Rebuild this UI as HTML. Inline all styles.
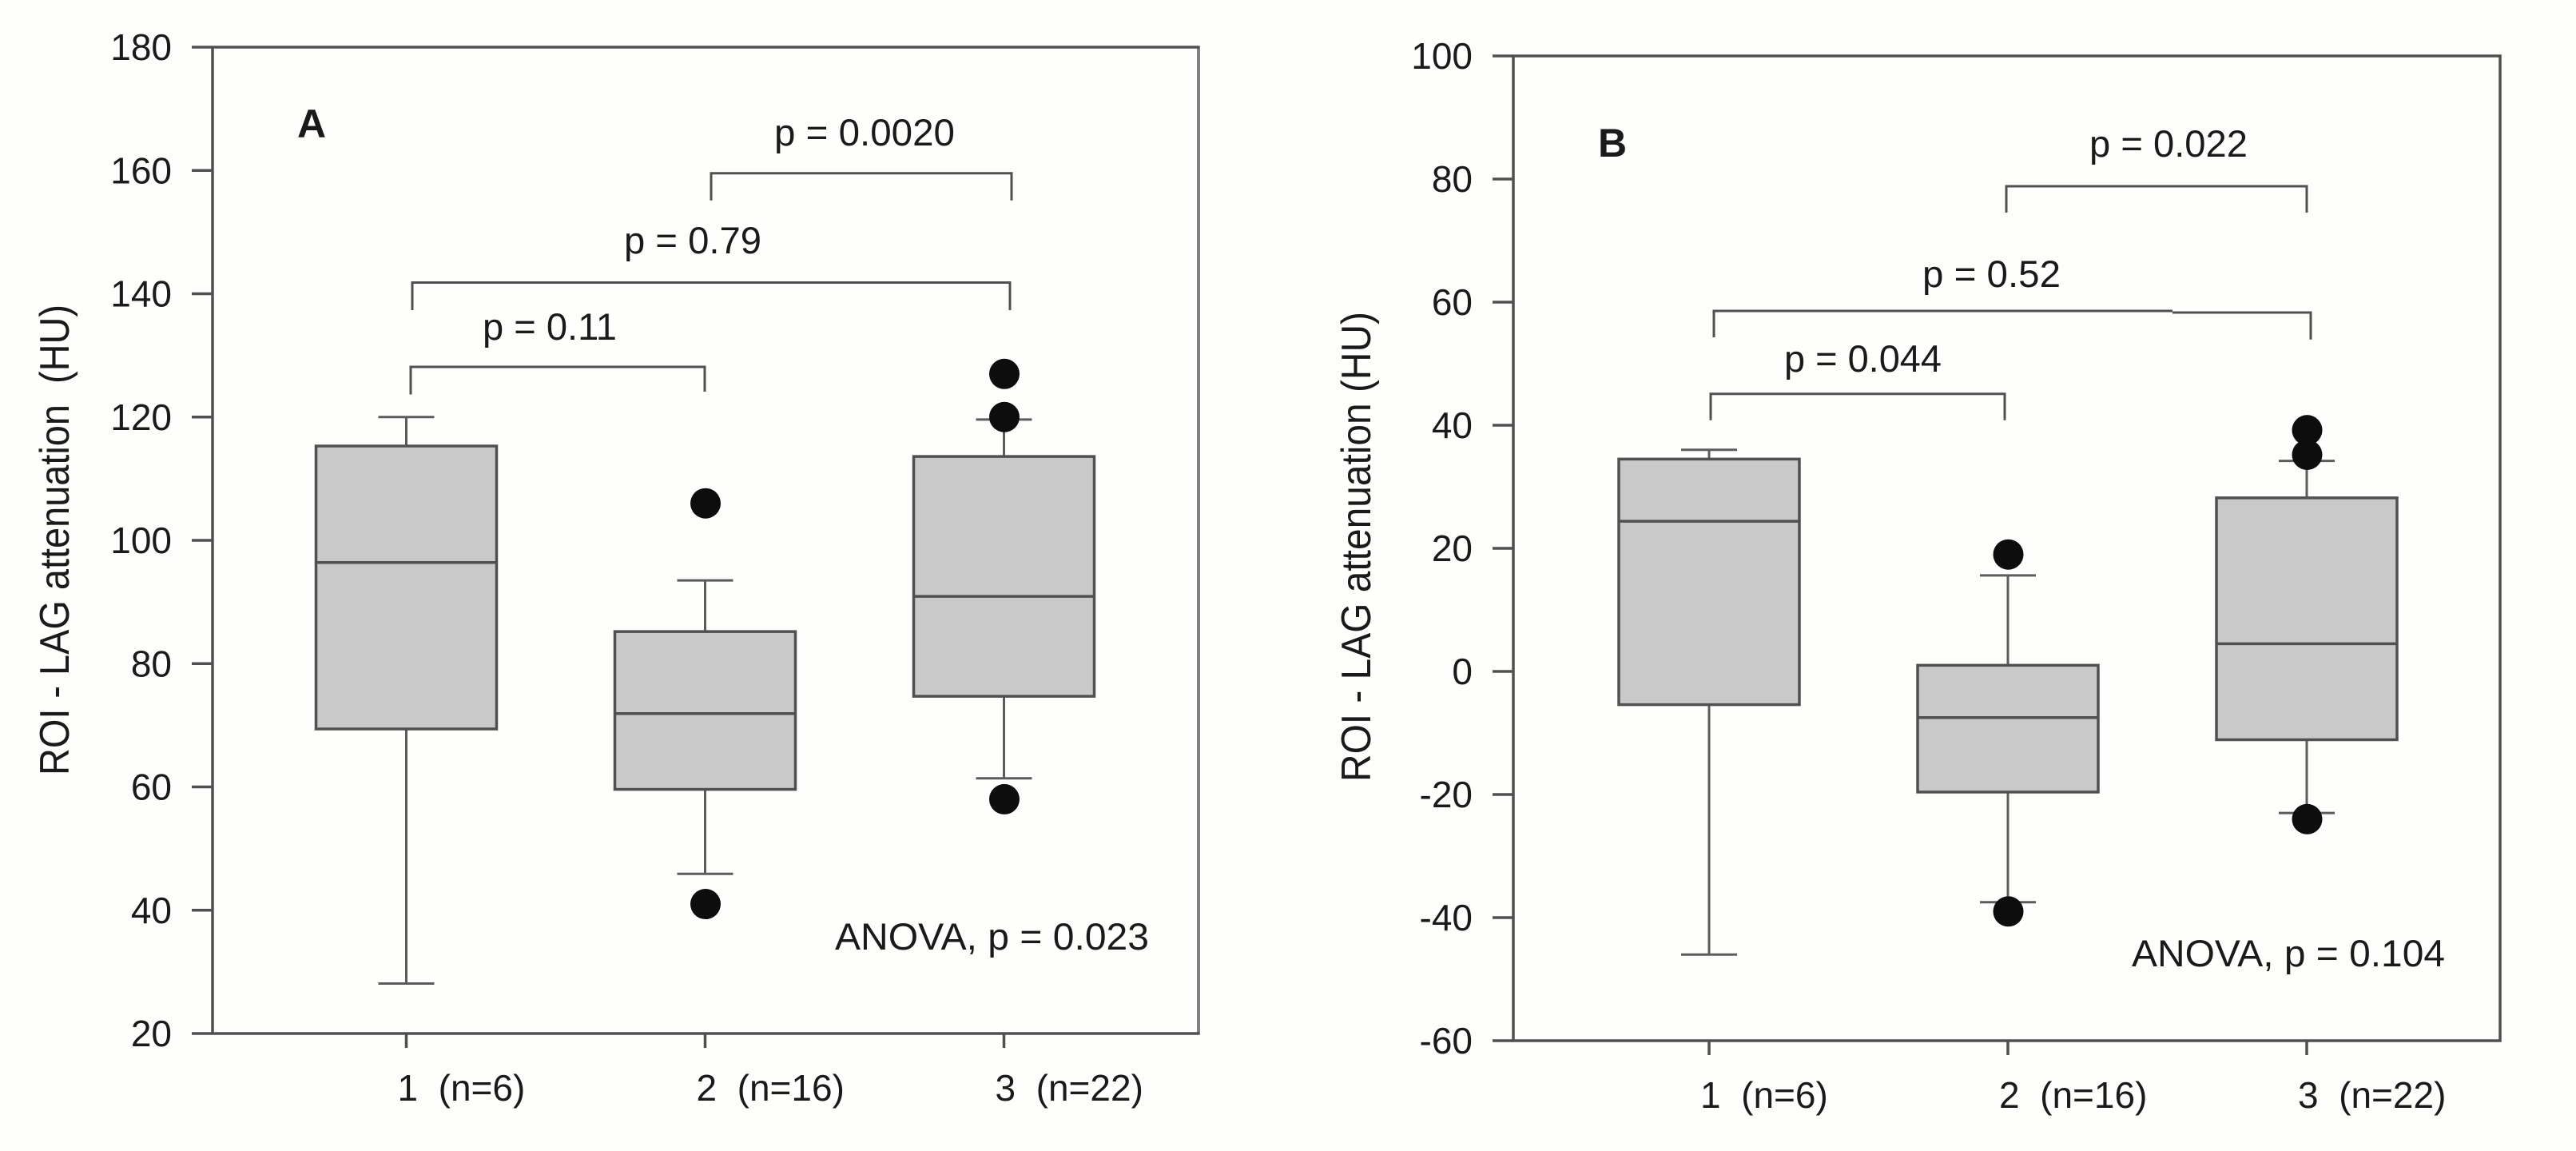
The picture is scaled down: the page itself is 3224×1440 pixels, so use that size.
<!DOCTYPE html>
<html>
<head>
<meta charset="utf-8">
<title>ROI - LAG attenuation box plots</title>
<style>
html,body{margin:0;padding:0;background:#fefefc;width:3224px;height:1440px;overflow:hidden}
svg{display:block}
text{font-family:"Liberation Sans",sans-serif;fill:#1a1a1a;white-space:pre}
.ax{stroke:#505050;stroke-width:3.5;fill:none}
.br{stroke:#505050;stroke-width:3;fill:none}
.ann{font-size:47px}
</style>
</head>
<body>
<svg id="chart" xmlns="http://www.w3.org/2000/svg" width="3224" height="1440" viewBox="0 0 3224 1440">
<rect x="0" y="0" width="3224" height="1440" fill="#fefefc"/>
<g id="panelA"></g>
<g id="panelB"></g>
<line x1="1500" x2="1500" y1="61" y2="1291" stroke="#808080" stroke-width="4"/>

<text x="372" y="172" font-size="50" font-weight="bold" fill="#000">A</text>
<text x="2000" y="196" font-size="50" font-weight="bold" fill="#000">B</text>

<text transform="translate(86,970) rotate(-90) scale(1,1.1)" font-size="47" textLength="589" lengthAdjust="spacingAndGlyphs">ROI - LAG attenuation  (HU)</text>
<text transform="translate(1715,978) rotate(-90) scale(1,1.1)" font-size="47" textLength="588" lengthAdjust="spacingAndGlyphs">ROI - LAG attenuation (HU)</text>

<path class="br" d="M514 493.5V459H882V490"/>
<path class="br" d="M516 388V353.5H1264V388"/>
<path class="br" d="M890 250.7V216.7H1266V250.7"/>
<text class="ann" x="604" y="425" textLength="168" lengthAdjust="spacingAndGlyphs">p = 0.11</text>
<text class="ann" x="781" y="317" textLength="172" lengthAdjust="spacingAndGlyphs">p = 0.79</text>
<text class="ann" x="969" y="182" textLength="226" lengthAdjust="spacingAndGlyphs">p = 0.0020</text>
<text class="ann" x="1045" y="1188" textLength="393" lengthAdjust="spacingAndGlyphs">ANOVA, p = 0.023</text>

<path class="br" d="M2141 525.7V492.7H2509V525.7"/>
<path class="br" d="M2145 422V389H2719"/>
<path class="br" d="M2719 391H2892V424.7"/>
<path class="br" d="M2511 266V233H2887V266"/>
<text class="ann" x="2233" y="465" textLength="197" lengthAdjust="spacingAndGlyphs">p = 0.044</text>
<text class="ann" x="2406" y="359" textLength="173" lengthAdjust="spacingAndGlyphs">p = 0.52</text>
<text class="ann" x="2615" y="196" textLength="198" lengthAdjust="spacingAndGlyphs">p = 0.022</text>
<text class="ann" x="2668" y="1209" textLength="392" lengthAdjust="spacingAndGlyphs">ANOVA, p = 0.104</text>
</svg>
<script>
const categories = ['1  (n=6)', '2  (n=16)', '3  (n=22)'];

const yTicksA = [20, 40, 60, 80, 100, 120, 140, 160, 180];
const q1A = [69.4, 59.6, 74.7];
const medianA = [96.4, 71.9, 90.9];
const q3A = [115.3, 85.2, 113.6];
const whiskerLowA = [28.1, 45.9, 61.4];
const whiskerHighA = [120, 93.5, 119.6];
const outliersA = [[], [106, 41], [127, 120, 58]];

const yTicksB = [-60, -40, -20, 0, 20, 40, 60, 80, 100];
const q1B = [-5.4, -19.6, -11.1];
const medianB = [24.4, -7.5, 4.5];
const q3B = [34.5, 1.0, 28.2];
const whiskerLowB = [-46, -37.5, -23];
const whiskerHighB = [36, 15.6, 34.2];
const outliersB = [[], [19, -39], [39.2, 35.2, -24]];

const NS = 'http://www.w3.org/2000/svg';
function mk(parent, tag, attrs, txt) {
  const e = document.createElementNS(NS, tag);
  for (const k in attrs) e.setAttribute(k, attrs[k]);
  if (txt !== undefined) e.textContent = txt;
  parent.appendChild(e);
  return e;
}

function drawPanel(g, id, frame, yMin, yMax, x0, dx, ticks, q1, med, q3, wLo, wHi, outs) {
  const yScale = v => frame.top + (yMax - v) * (frame.bottom - frame.top) / (yMax - yMin);
  const xScale = i => x0 + i * dx;

  const border = mk(g, 'rect', {x: frame.left, y: frame.top, width: frame.right - frame.left, height: frame.bottom - frame.top, class: 'ax'});
  
  

  ticks.forEach(t => {
    const y = yScale(t);
    const tk = mk(g, 'line', {x1: frame.left - 26, x2: frame.left, y1: y, y2: y, class: 'ax'});
    
    
    const lb = mk(g, 'text', {x: frame.left - 51, y: y + 16, 'text-anchor': 'end', 'font-size': 46}, String(t));
    
    
  });

  categories.forEach((c, i) => {
    const cx = xScale(i);
    const tk = mk(g, 'line', {x1: cx, x2: cx, y1: frame.bottom, y2: frame.bottom + 18, class: 'ax', 'stroke-width': 3});
    
    
    const lb = mk(g, 'text', {x: cx - 11, y: frame.bottom + 84, 'font-size': 46}, c);
    
    

    const halfBox = 113, halfCap = 35;
    const whisker = mk(g, 'line', {x1: cx, x2: cx, y1: yScale(wHi[i]), y2: yScale(wLo[i]), stroke: '#5c5c5c', 'stroke-width': 3});
    
    
    const capHi = mk(g, 'line', {x1: cx - halfCap, x2: cx + halfCap, y1: yScale(wHi[i]), y2: yScale(wHi[i]), stroke: '#5c5c5c', 'stroke-width': 3});
    
    
    const capLo = mk(g, 'line', {x1: cx - halfCap, x2: cx + halfCap, y1: yScale(wLo[i]), y2: yScale(wLo[i]), stroke: '#5c5c5c', 'stroke-width': 3});
    
    
    const box = mk(g, 'rect', {x: cx - halfBox, y: yScale(q3[i]), width: 2 * halfBox, height: yScale(q1[i]) - yScale(q3[i]), fill: '#c9c9c9', stroke: '#505050', 'stroke-width': 3.5});
    
    
    const ml = mk(g, 'line', {x1: cx - halfBox, x2: cx + halfBox, y1: yScale(med[i]), y2: yScale(med[i]), stroke: '#505050', 'stroke-width': 3.5});
    
    
    outs[i].forEach((v, k) => {
      const d = mk(g, 'circle', {cx: cx + 0.5, cy: yScale(v), r: 19, fill: '#0d0d0d'});
      
      
    });
  });
}

drawPanel(document.getElementById('panelA'), 'a',
  {left: 266, right: 1500, top: 59, bottom: 1293}, 20, 180, 508.5, 374,
  yTicksA, q1A, medianA, q3A, whiskerLowA, whiskerHighA, outliersA);
drawPanel(document.getElementById('panelB'), 'b',
  {left: 1894, right: 3129, top: 70, bottom: 1302}, -60, 100, 2139, 374,
  yTicksB, q1B, medianB, q3B, whiskerLowB, whiskerHighB, outliersB);
</script>
</body>
</html>
